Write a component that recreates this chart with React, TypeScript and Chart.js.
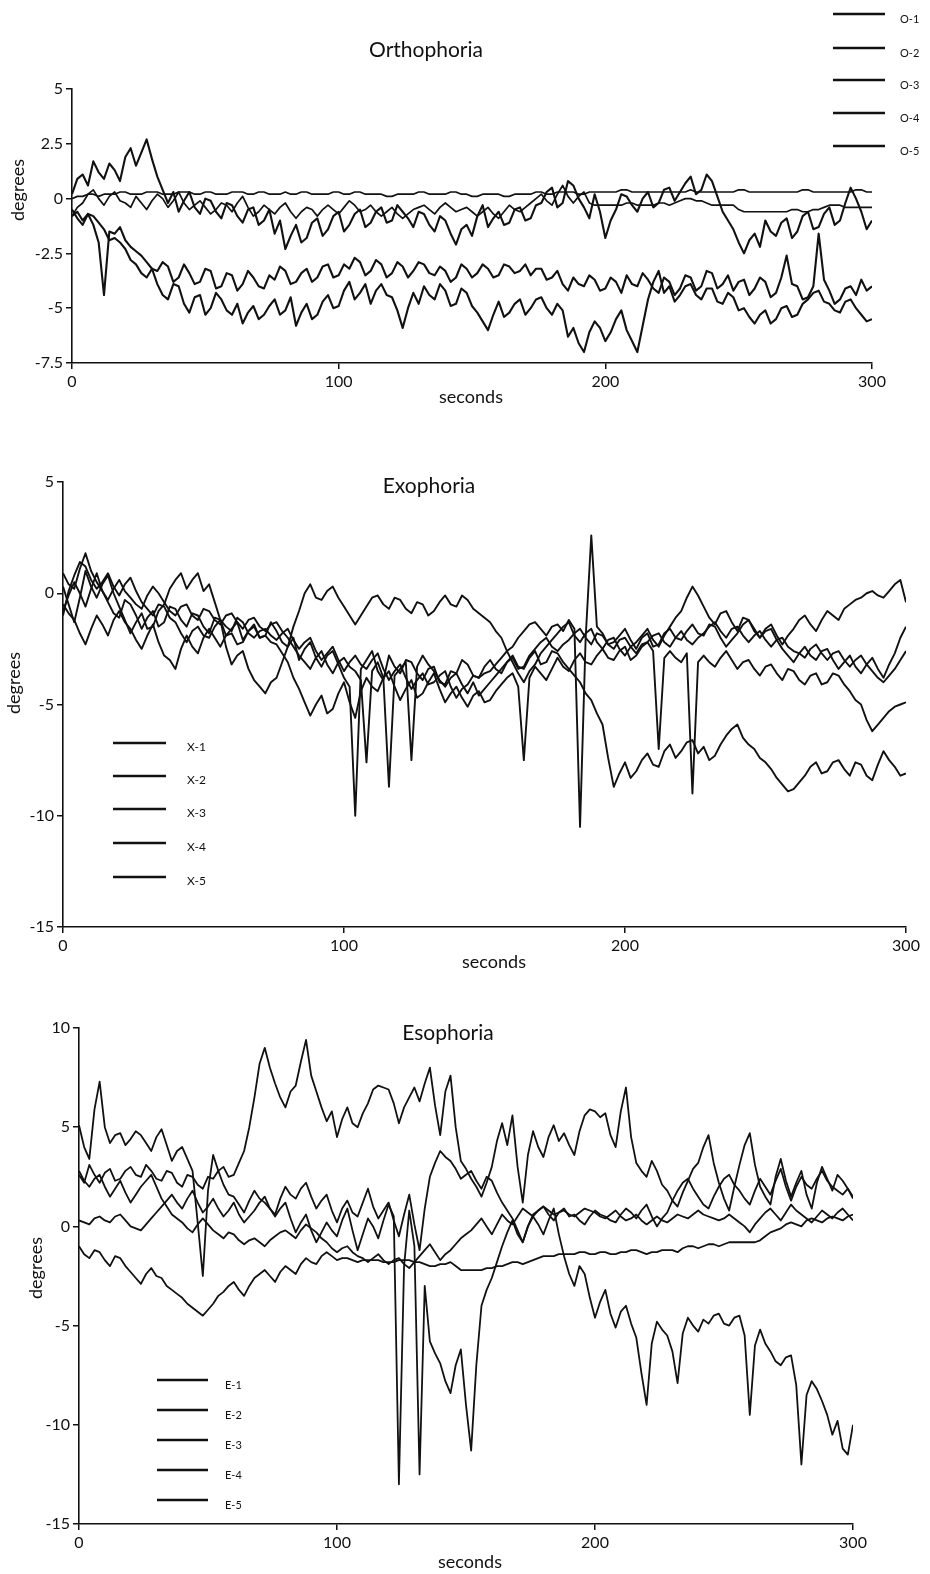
import React, { useEffect, useRef } from "react";
import { Chart, registerables } from "chart.js";

Chart.register(...registerables);

const FONT = "Lato, 'Open Sans', sans-serif";

// sample times (seconds)
const TIMES = [
  0, 2, 4, 6, 8, 10, 12, 14, 16, 18, 20, 22, 24, 26, 28, 30, 32, 34, 36, 38, 40, 42, 44, 46, 48, 50, 52, 54, 56, 58, 60, 62, 64, 66, 68, 70, 72, 74,
  76, 78, 80, 82, 84, 86, 88, 90, 92, 94, 96, 98, 100, 102, 104, 106, 108, 110, 112, 114, 116, 118, 120, 122, 124, 126, 128, 130, 132, 134, 136, 138, 140, 142, 144, 146, 148, 150,
  152, 154, 156, 158, 160, 162, 164, 166, 168, 170, 172, 174, 176, 178, 180, 182, 184, 186, 188, 190, 192, 194, 196, 198, 200, 202, 204, 206, 208, 210, 212, 214, 216, 218, 220, 222, 224, 226,
  228, 230, 232, 234, 236, 238, 240, 242, 244, 246, 248, 250, 252, 254, 256, 258, 260, 262, 264, 266, 268, 270, 272, 274, 276, 278, 280, 282, 284, 286, 288, 290, 292, 294, 296, 298, 300,
];

// ---------- Orthophoria ----------
const O_LABELS = ["O-1", "O-2", "O-3", "O-4", "O-5"];
const O1 = [
  0, 0.1, 0.1, 0.2, 0.2, 0.1, 0.2, 0.2, 0.2, 0.3, 0.3, 0.2, 0.2, 0.2, 0.3, 0.3, 0.3, 0.2, 0.2, 0.2, 0.3, 0.3, 0.3, 0.2, 0.2, 0.3, 0.3, 0.2, 0.2, 0.2, 0.3, 0.3, 0.3, 0.2, 0.2, 0.3, 0.3, 0.2,
  0.2, 0.2, 0.3, 0.2, 0.2, 0.3, 0.3, 0.2, 0.2, 0.2, 0.2, 0.3, 0.3, 0.2, 0.2, 0.3, 0.3, 0.2, 0.2, 0.2, 0.2, 0.1, 0.1, 0.2, 0.2, 0.2, 0.2, 0.3, 0.3, 0.2, 0.2, 0.2, 0.2, 0.3, 0.3, 0.2, 0.2, 0.1,
  0.1, 0.2, 0.2, 0.2, 0.2, 0.1, 0.1, 0.2, 0.2, 0.2, 0.2, 0.3, 0.3, 0.2, 0.2, 0.3, 0.3, 0.3, 0.3, 0.2, 0.2, 0.3, 0.3, 0.3, 0.3, 0.3, 0.3, 0.4, 0.4, 0.3, 0.3, 0.3, 0.3, 0.3, 0.3, 0.3, 0.3, 0.3,
  0.3, 0.3, 0.4, 0.3, 0.3, 0.3, 0.3, 0.3, 0.3, 0.3, 0.3, 0.4, 0.4, 0.3, 0.3, 0.3, 0.3, 0.3, 0.3, 0.3, 0.3, 0.3, 0.3, 0.4, 0.4, 0.3, 0.3, 0.3, 0.3, 0.3, 0.3, 0.3, 0.3, 0.4, 0.4, 0.3, 0.3,
];
const O2 = [
  -0.8, -0.4, -0.2, 0.2, 0.4, 0.0, -0.3, 0.1, 0.3, -0.1, -0.2, -0.4, 0.1, -0.2, -0.5, -0.1, 0.2, 0.0, -0.4, -0.1, 0.3, -0.2, -0.5, -0.3, -0.1, -0.4, -0.7, -0.5, -0.2, -0.3, -0.6, -0.2, 0.1, -0.4, -0.8, -0.6, -0.3, -0.5,
  -0.7, -0.4, -0.2, -0.6, -0.9, -0.6, -0.4, -0.5, -0.8, -0.5, -0.3, -0.5, -0.7, -0.4, -0.1, -0.3, -0.6, -0.5, -0.3, -0.6, -0.8, -0.6, -0.4, -0.7, -0.9, -0.7, -0.5, -0.4, -0.3, -0.5, -0.7, -0.4, -0.2, -0.4, -0.6, -0.5, -0.4, -0.6,
  -0.8, -0.6, -0.4, -0.7, -0.9, -0.6, -0.3, -0.5, -0.6, -0.4, -0.2, 0.0, 0.2, -0.1, -0.3, 0.2, 0.6, 0.1, -0.2, 0.1, 0.3, -0.2, -0.3, -0.3, -0.3, -0.3, -0.3, -0.3, -0.2, -0.2, -0.3, -0.3, -0.3, -0.3, -0.2, -0.2, -0.3, -0.2,
  -0.1, 0.0, 0.0, -0.1, -0.1, -0.2, -0.3, -0.3, -0.3, -0.3, -0.3, -0.5, -0.6, -0.6, -0.6, -0.6, -0.6, -0.6, -0.6, -0.6, -0.6, -0.5, -0.5, -0.6, -0.6, -0.5, -0.5, -0.4, -0.3, -0.3, -0.3, -0.4, -0.4, -0.4, -0.4, -0.4, -0.4,
];
const O3 = [
  0.2, 0.9, 1.1, 0.6, 1.7, 1.2, 0.9, 1.6, 1.3, 0.8, 1.9, 2.3, 1.5, 2.1, 2.7, 1.8, 1.0, 0.4, -0.2, 0.3, -0.6, -0.1, 0.3, -0.4, -0.7, 0.0, -0.1, -0.6, -0.9, -0.2, -0.3, -0.8, -1.1, -0.5, -0.4, -1.2, -1.0, -0.5,
  -1.6, -1.0, -2.3, -1.7, -1.2, -2.0, -1.8, -1.1, -0.9, -1.7, -1.4, -0.8, -0.6, -1.5, -1.2, -0.7, -0.5, -1.3, -1.1, -0.6, -0.4, -1.1, -1.0, -0.3, -0.6, -0.9, -1.3, -0.6, -0.7, -1.2, -1.5, -0.8, -1.0, -1.6, -2.1, -1.4, -1.2, -1.7,
  -0.8, -0.3, -1.3, -0.9, -0.6, -1.2, -1.1, -0.5, -0.4, -1.0, -0.9, -0.3, -0.2, 0.3, 0.5, -0.4, -0.2, 0.8, 0.6, 0.0, -0.4, -0.9, 0.2, -0.6, -1.8, -1.0, -0.5, 0.2, 0.1, -0.3, -0.6, 0.0, 0.3, -0.4, -0.2, 0.4, 0.5, -0.1,
  0.3, 0.7, 1.0, 0.2, 0.4, 1.1, 0.8, 0.1, -0.6, -1.0, -1.4, -2.0, -2.5, -1.9, -1.6, -2.2, -1.0, -1.5, -1.7, -1.1, -0.9, -1.8, -1.5, -0.8, -0.6, -1.4, -1.3, -0.7, -0.4, -1.2, -1.0, -0.2, 0.5, 0.0, -0.6, -1.4, -1.0,
];
const O4 = [
  -0.8, -0.6, -1.0, -0.7, -1.2, -2.0, -4.4, -1.5, -1.6, -1.3, -1.9, -2.2, -2.4, -2.6, -2.9, -3.2, -3.3, -2.9, -3.1, -3.8, -3.6, -3.0, -3.4, -3.9, -3.8, -3.2, -3.3, -4.1, -4.0, -3.4, -3.5, -4.2, -3.9, -3.3, -3.6, -4.0, -4.1, -3.5,
  -3.7, -3.1, -3.3, -3.9, -3.8, -3.4, -3.2, -3.8, -3.6, -3.1, -3.0, -3.6, -3.5, -3.0, -3.2, -2.7, -2.9, -3.5, -3.3, -2.8, -3.0, -3.6, -3.4, -2.9, -3.1, -3.6, -3.3, -2.9, -3.0, -3.4, -3.5, -3.1, -3.3, -3.8, -3.6, -3.0, -3.2, -3.6,
  -3.4, -3.0, -3.2, -3.6, -3.5, -3.0, -3.1, -3.4, -3.3, -3.0, -3.5, -3.2, -3.2, -3.7, -3.6, -3.3, -3.9, -4.2, -3.6, -3.9, -4.0, -3.5, -3.7, -4.2, -4.1, -3.6, -3.8, -4.3, -3.5, -3.9, -4.0, -3.4, -3.7, -4.1, -4.3, -3.6, -3.8, -4.4,
  -4.1, -3.5, -3.6, -4.2, -4.0, -3.3, -3.4, -4.1, -3.9, -3.5, -4.2, -3.8, -3.7, -4.4, -4.1, -3.6, -3.8, -4.5, -4.3, -3.6, -2.6, -3.9, -4.0, -4.6, -4.5, -4.0, -1.6, -3.7, -4.2, -4.8, -4.6, -4.1, -4.0, -4.4, -3.7, -4.2, -4.0,
];
const O5 = [
  -0.5, -0.9, -1.2, -0.7, -0.8, -1.1, -1.4, -1.9, -1.8, -2.0, -2.3, -2.8, -3.0, -3.4, -3.6, -3.2, -3.9, -4.4, -4.6, -3.9, -4.0, -4.8, -5.2, -4.5, -4.4, -5.3, -5.0, -4.3, -4.6, -5.1, -5.3, -4.8, -5.7, -5.2, -4.9, -5.5, -5.3, -4.9,
  -4.6, -5.3, -5.1, -4.5, -5.8, -5.2, -4.8, -5.5, -5.3, -4.7, -4.4, -5.0, -4.9, -4.2, -3.8, -4.6, -4.3, -3.9, -4.8, -4.2, -3.9, -4.4, -4.5, -5.1, -5.9, -5.0, -4.3, -4.8, -4.0, -4.4, -4.6, -3.9, -4.2, -4.9, -4.8, -4.1, -4.3, -4.9,
  -5.2, -5.6, -6.0, -5.3, -4.7, -5.4, -5.2, -4.8, -4.6, -5.3, -5.0, -4.6, -4.5, -5.0, -5.3, -4.8, -5.1, -6.3, -5.9, -6.6, -7.0, -6.1, -5.6, -5.9, -6.5, -6.1, -5.5, -5.1, -6.0, -6.5, -7.0, -5.8, -4.6, -3.8, -3.3, -4.3, -4.0, -4.7,
  -4.4, -4.0, -3.9, -4.4, -4.6, -4.1, -4.1, -4.7, -4.8, -4.3, -4.5, -5.1, -5.0, -5.4, -5.7, -5.3, -5.1, -5.7, -5.5, -5.0, -4.9, -5.4, -5.3, -4.8, -4.6, -4.3, -4.2, -4.7, -4.8, -5.1, -5.2, -4.7, -4.6, -5.0, -5.3, -5.6, -5.5,
];

// ---------- Exophoria ----------
const X_LABELS = ["X-1", "X-2", "X-3", "X-4", "X-5"];
const X1 = [
  -0.8, -0.1, 0.5, 0.0, -0.6, 0.2, 0.9, 0.1, -0.4, -0.9, -1.1, -0.3, -0.5, -1.0, -1.6, -1.1, -0.8, -1.5, -1.3, -0.6, -0.7, -1.2, -1.5, -0.9, -1.0, -1.5, -1.8, -1.1, -1.2, -1.9, -1.6, -1.3, -2.1, -1.7, -1.4, -2.0, -1.9, -1.3,
  -1.7, -2.2, -2.4, -2.0, -3.0, -2.5, -2.2, -2.9, -3.3, -2.8, -2.6, -3.2, -3.8, -4.2, -10.0, -3.4, -3.0, -2.6, -3.5, -3.9, -2.8, -3.3, -3.6, -3.0, -3.1, -3.6, -3.9, -3.4, -3.3, -4.0, -4.1, -3.5, -3.6, -3.0, -3.2, -3.7, -3.8, -3.3,
  -3.0, -3.4, -3.6, -3.1, -2.8, -3.3, -3.4, -2.9, -2.6, -3.2, -3.1, -2.6, -2.7, -3.1, -3.4, -3.7, -4.0, -4.5, -4.8, -5.4, -5.9, -7.4, -8.7, -8.1, -7.6, -8.3, -8.0, -7.5, -7.2, -7.7, -7.8, -7.1, -6.8, -7.4, -7.1, -6.7, -6.6, -7.2,
  -6.9, -7.5, -7.3, -6.8, -6.4, -6.1, -5.9, -6.5, -6.8, -7.0, -7.4, -7.6, -7.9, -8.3, -8.6, -8.9, -8.8, -8.5, -8.2, -7.8, -7.6, -8.1, -8.0, -7.6, -7.5, -7.9, -8.2, -7.6, -7.7, -8.2, -8.4, -7.7, -7.1, -7.5, -7.8, -8.2, -8.1,
];
const X2 = [
  0.3, -0.5, -1.3, -0.2, 1.0, 0.3, -0.2, 0.4, 0.8, 0.0, -0.6, -1.2, -1.8, -1.3, -0.9, -1.6, -1.5, -0.8, -0.5, 0.2, 0.6, 0.9, 0.2, 0.6, 0.9, 0.1, 0.4, -0.4, -1.2, -2.4, -3.2, -2.8, -2.6, -3.4, -3.9, -4.2, -4.5, -4.0,
  -3.8, -3.1, -2.4, -1.5, -0.8, 0.0, 0.4, -0.2, -0.3, 0.1, 0.3, -0.2, -0.6, -1.0, -1.4, -1.0, -0.6, -0.2, -0.1, -0.5, -0.7, -0.2, -0.3, -0.7, -0.9, -0.4, -0.5, -1.0, -0.8, -0.4, -0.1, -0.5, -0.6, -0.1, -0.3, -0.7, -0.9, -1.1,
  -1.3, -1.7, -2.0, -2.6, -3.1, -3.6, -4.0, -3.5, -3.2, -2.7, -2.4, -2.1, -1.8, -1.5, -1.3, -1.9, -2.2, -1.8, -1.6, -2.2, -2.5, -2.1, -2.0, -2.5, -2.8, -2.4, -2.2, -1.9, -1.6, -2.1, -2.4, -1.9, -1.5, -1.1, -0.8, -0.2, 0.3, -0.1,
  -0.6, -1.1, -1.4, -0.9, -0.8, -1.3, -1.7, -1.1, -1.2, -1.7, -2.0, -1.6, -1.4, -1.9, -2.3, -1.9, -1.6, -1.2, -1.0, -1.4, -1.7, -1.2, -0.8, -1.0, -1.2, -0.7, -0.5, -0.3, -0.2, 0.0, 0.1, -0.1, -0.2, 0.1, 0.4, 0.6, -0.4,
];
const X3 = [
  -0.5, -0.9, -1.2, -1.8, -2.3, -1.6, -1.0, -1.4, -1.9, -1.2, -0.8, -1.3, -1.6, -2.1, -2.5, -1.9, -1.4, -2.2, -2.8, -3.0, -3.4, -2.5, -1.9, -2.4, -2.7, -2.0, -1.6, -2.0, -2.4, -1.9, -1.8, -2.3, -2.2, -1.7, -1.5, -2.0, -1.9, -2.2,
  -2.3, -2.7, -3.1, -3.8, -4.3, -4.9, -5.5, -5.0, -4.6, -5.4, -5.2, -4.5, -4.0, -4.9, -5.6, -4.4, -3.8, -4.2, -4.4, -3.8, -3.5, -4.2, -4.8, -4.3, -3.9, -4.7, -4.5, -4.0, -3.6, -4.3, -4.9, -4.5, -4.2, -4.7, -5.1, -4.6, -4.4, -4.9,
  -4.8, -4.4, -4.1, -3.8, -3.6, -4.2, -7.5, -3.8, -3.3, -3.6, -3.9, -3.4, -2.9, -3.3, -3.5, -3.0, -2.7, -3.1, -3.2, -2.8, -2.5, -2.9, -3.0, -2.6, -2.4, -3.0, -2.8, -2.4, -2.2, -2.6, -7.0, -2.9, -2.6, -2.9, -3.1, -2.7, -9.0, -3.1,
  -2.8, -3.1, -3.3, -2.9, -2.6, -3.0, -3.4, -3.1, -3.0, -3.4, -3.7, -3.3, -3.2, -3.6, -3.9, -3.4, -3.5, -3.9, -4.1, -3.7, -3.6, -4.1, -4.0, -3.6, -3.7, -4.1, -4.4, -4.8, -5.0, -5.7, -6.2, -5.9, -5.6, -5.3, -5.1, -5.0, -4.9,
];
const X4 = [
  0.9, 0.4, 0.2, 1.1, 1.8, 1.0, 0.5, 0.1, -0.3, 0.2, 0.6, 0.1, -0.2, -0.5, -0.7, -0.1, 0.3, 0.0, -0.4, -0.8, -1.0, -0.6, -0.5, -1.0, -1.2, -0.7, -0.8, -1.2, -1.4, -1.0, -0.9, -1.3, -1.6, -1.2, -1.1, -1.5, -1.7, -1.4,
  -1.3, -1.7, -2.0, -2.4, -2.8, -3.1, -3.4, -2.9, -2.6, -3.2, -3.6, -3.1, -2.9, -3.3, -3.5, -3.9, -7.6, -3.5, -3.1, -3.8, -8.7, -3.7, -3.4, -3.1, -7.5, -3.3, -2.8, -3.2, -3.5, -3.9, -4.2, -3.8, -3.6, -4.1, -4.5, -4.0, -4.6, -4.3,
  -4.0, -3.7, -3.4, -3.1, -2.9, -3.4, -3.3, -2.8, -2.5, -2.2, -2.0, -2.4, -2.6, -2.3, -2.1, -1.8, -1.6, -2.0, -2.3, -1.8, -1.9, -2.3, -2.5, -2.1, -2.0, -2.4, -2.7, -2.3, -2.2, -1.9, -1.8, -2.2, -2.4, -2.0, -1.7, -2.1, -2.3, -2.0,
  -1.8, -1.5, -1.3, -1.7, -2.0, -1.6, -1.5, -1.9, -2.2, -1.9, -1.7, -2.1, -2.4, -2.1, -2.0, -2.4, -2.6, -2.7, -2.9, -2.5, -2.3, -2.7, -3.0, -2.7, -2.6, -3.0, -3.3, -3.0, -2.8, -3.2, -3.5, -3.8, -4.0, -3.7, -3.4, -3.0, -2.6,
];
const X5 = [
  -1.0, 0.1, 0.8, 1.4, 1.2, 0.6, 0.2, 0.5, 0.9, 0.3, -0.1, 0.4, 0.7, 0.1, -0.4, -0.7, -1.0, -0.5, -0.6, -1.1, -1.3, -1.8, -2.2, -1.7, -1.5, -1.9, -2.0, -1.5, -1.2, -1.5, -1.7, -1.1, -1.3, -1.8, -2.0, -1.7, -1.6, -1.9,
  -2.1, -1.8, -1.6, -2.1, -2.5, -2.2, -2.0, -2.6, -3.0, -2.7, -2.4, -3.0, -3.5, -3.1, -2.8, -3.2, -3.4, -3.0, -2.7, -3.4, -3.9, -3.5, -3.2, -3.8, -4.3, -3.9, -3.6, -4.1, -4.0, -3.7, -3.5, -4.2, -4.7, -4.3, -4.1, -3.7, -3.8, -3.6,
  -3.5, -3.2, -2.9, -2.6, -2.4, -2.0, -1.7, -1.4, -1.3, -1.6, -1.9, -1.5, -1.4, -1.7, -1.2, -1.6, -10.5, -2.0, 2.6, -1.5, -1.8, -2.3, -2.2, -1.9, -1.6, -2.1, -2.5, -2.0, -1.8, -2.4, -2.3, -1.8, -1.6, -2.0, -2.1, -1.7, -1.4, -1.8,
  -1.9, -1.4, -1.5, -2.0, -2.4, -2.1, -1.8, -1.4, -1.2, -1.6, -2.0, -1.7, -1.6, -2.1, -2.5, -2.8, -3.1, -2.7, -2.4, -2.8, -3.0, -2.6, -2.5, -3.0, -3.4, -3.1, -2.8, -3.3, -3.6, -3.2, -2.9, -3.4, -3.8, -3.2, -2.7, -2.0, -1.5,
];

// ---------- Esophoria ----------
const E_LABELS = ["E-1", "E-2", "E-3", "E-4", "E-5"];
const E1 = [
  2.6, 2.2, 3.1, 2.6, 2.2, 2.7, 2.9, 2.3, 2.4, 2.8, 3.0, 2.6, 2.5, 3.1, 2.8, 2.4, 2.3, 2.8, 2.7, 2.2, 2.0, 2.6, 2.5, 2.1, 1.9, 2.5, 2.4, 2.8, 3.0, 2.5, 2.6, 3.2, 3.8, 5.0, 6.5, 8.2, 9.0, 8.0,
  7.2, 6.5, 6.0, 6.8, 7.1, 8.3, 9.4, 7.6, 6.8, 6.0, 5.3, 5.8, 4.5, 5.4, 6.0, 5.2, 5.0, 5.7, 6.2, 6.9, 7.1, 7.0, 6.9, 6.2, 5.2, 6.0, 6.5, 7.0, 6.3, 7.2, 8.0, 6.1, 4.6, 6.8, 7.6, 5.0, 3.3, 2.9,
  2.4, 2.0, 1.5, 2.2, 3.0, 4.3, 5.2, 4.1, 5.6, 3.0, 1.2, 3.6, 4.8, 4.0, 3.5, 4.5, 5.1, 4.3, 4.7, 4.1, 3.6, 4.8, 5.6, 5.9, 5.8, 5.5, 5.7, 4.6, 4.0, 5.8, 7.0, 4.5, 3.2, 2.8, 2.5, 3.3, 2.8, 2.1,
  1.8, 1.3, 1.0, 1.7, 2.3, 2.9, 3.2, 4.0, 4.6, 3.2, 2.2, 1.4, 0.8, 2.0, 3.1, 4.1, 4.7, 3.1, 2.0, 1.5, 1.1, 2.5, 3.4, 2.3, 1.5, 2.2, 2.8, 1.6, 0.9, 2.2, 3.0, 2.4, 1.8, 2.6, 2.3, 1.9, 1.4,
];
const E2 = [
  5.1, 4.0, 3.4, 5.9, 7.3, 5.0, 4.2, 4.6, 4.7, 4.1, 4.4, 4.8, 4.6, 4.2, 3.8, 4.5, 4.9, 4.1, 3.3, 3.8, 4.0, 3.4, 2.8, 0.2, -2.5, 1.8, 3.6, 2.8, 2.1, 1.6, 1.5, 1.1, 0.7, 1.3, 1.8, 1.4, 1.2, 0.9,
  0.6, 1.4, 2.0, 1.6, 1.4, 1.9, 2.2, 1.5, 0.9, 1.3, 1.6, 0.8, 0.2, 0.9, 1.3, 0.7, 0.5, 1.2, 1.9, 1.0, 0.4, 0.8, 1.2, 0.3, -0.5, 0.6, 1.6, 0.1, -1.2, 0.9, 2.5, 3.2, 3.8, 3.5, 3.3, 2.9, 2.4, 2.6,
  2.8, 2.3, 1.9, 2.5, 2.3, 1.7, 1.2, 0.8, 0.4, -0.2, -0.8, 0.0, 0.6, 0.8, 1.0, 0.6, 0.3, 0.7, 0.9, 0.5, 0.6, 0.3, 0.1, 0.5, 0.8, 0.6, 0.5, 0.3, 0.2, 0.6, 0.9, 0.7, 0.4, 0.8, 1.1, 0.5, 0.0, 0.4,
  0.7, 1.3, 1.8, 2.2, 2.4, 1.9, 1.5, 1.1, 0.9, 1.5, 2.0, 2.4, 2.6, 2.1, 1.8, 1.4, 1.1, 1.8, 2.4, 2.0, 1.6, 2.3, 2.9, 2.0, 1.3, 2.0, 2.5, 2.1, 1.9, 2.4, 2.8, 2.3, 2.0, 1.8, 1.6, 1.9, 1.5,
];
const E3 = [
  0.3, 0.2, 0.1, 0.4, 0.5, 0.3, 0.2, 0.5, 0.6, 0.3, 0.0, -0.1, -0.2, 0.1, 0.4, 0.7, 1.0, 1.3, 1.6, 1.2, 0.9, 1.4, 1.8, 1.2, 0.7, 1.0, 1.4, 0.9, 0.5, 0.8, 1.2, 0.6, 0.2, 0.5, 0.8, 1.2, 1.5, 0.9,
  0.5, 0.9, 1.2, 0.4, -0.3, 0.2, 0.6, -0.2, -0.8, -0.3, 0.2, -0.2, -0.5, 0.3, 0.9, -0.2, -1.2, -0.4, 0.4, 0.0, -0.6, 0.3, 1.1, 0.5, -13.0, -2.0, 0.8, -1.0, -12.5, -3.0, -5.8, -6.4, -6.9, -7.8, -8.4, -7.0, -6.2, -9.0,
  -11.3, -7.0, -4.0, -3.2, -2.6, -1.8, -1.0, -0.3, 0.3, -0.4, -0.8, 0.0, 0.5, 0.1, -0.4, 0.3, 0.9, -0.4, -1.5, -2.4, -3.0, -2.0, -2.4, -3.6, -4.6, -3.8, -3.2, -4.4, -5.1, -4.3, -4.0, -4.9, -5.6, -7.4, -9.0, -5.9, -4.8, -5.2,
  -5.5, -6.3, -7.9, -5.4, -4.6, -5.0, -5.3, -4.7, -4.9, -4.5, -4.4, -4.9, -5.0, -4.6, -4.5, -5.5, -9.5, -6.0, -5.2, -5.9, -6.3, -6.8, -7.0, -6.6, -6.5, -8.0, -12.0, -8.5, -7.8, -8.2, -8.8, -9.5, -10.5, -9.8, -11.2, -11.5, -10.0,
];
const E4 = [
  -1.0, -1.4, -1.6, -1.2, -1.3, -1.7, -2.0, -1.5, -1.6, -2.0, -2.3, -2.6, -2.9, -2.4, -2.1, -2.5, -2.6, -3.0, -3.2, -3.4, -3.6, -3.9, -4.1, -4.3, -4.5, -4.2, -3.9, -3.5, -3.3, -3.0, -2.8, -3.2, -3.5, -3.0, -2.6, -2.4, -2.2, -2.5,
  -2.8, -2.3, -2.0, -2.2, -2.4, -1.9, -1.6, -1.8, -1.9, -1.5, -1.3, -1.5, -1.7, -1.6, -1.6, -1.7, -1.8, -1.7, -1.7, -1.7, -1.7, -1.8, -1.8, -1.8, -1.7, -1.7, -1.7, -1.8, -1.8, -1.9, -2.0, -2.0, -1.9, -1.9, -1.8, -2.0, -2.2, -2.2,
  -2.2, -2.2, -2.2, -2.1, -2.1, -2.0, -2.0, -1.9, -1.8, -1.8, -1.9, -1.8, -1.7, -1.6, -1.5, -1.5, -1.5, -1.4, -1.4, -1.4, -1.4, -1.3, -1.3, -1.4, -1.4, -1.3, -1.3, -1.4, -1.4, -1.3, -1.3, -1.2, -1.2, -1.3, -1.4, -1.3, -1.3, -1.2,
  -1.2, -1.2, -1.3, -1.1, -1.0, -1.0, -1.1, -1.0, -0.9, -0.9, -1.0, -0.9, -0.8, -0.8, -0.8, -0.8, -0.8, -0.8, -0.7, -0.5, -0.3, -0.2, -0.1, 0.1, 0.2, 0.1, 0.0, 0.3, 0.4, 0.3, 0.2, 0.4, 0.5, 0.4, 0.3, 0.5, 0.6,
];
const E5 = [
  2.8, 2.3, 2.0, 2.4, 2.6, 2.0, 1.5, 1.9, 2.3, 1.7, 1.2, 1.6, 2.0, 2.3, 2.6, 2.0, 1.4, 1.0, 0.6, 0.4, 0.2, -0.1, -0.3, 0.1, 0.4, 0.1, -0.2, -0.4, -0.6, -0.3, -0.4, -0.7, -0.9, -0.7, -0.6, -0.8, -1.0, -0.7,
  -0.5, -0.3, -0.2, -0.4, -0.6, -0.2, 0.1, -0.1, -0.3, -0.6, -0.8, -1.1, -1.3, -1.1, -1.0, -1.3, -1.5, -1.6, -1.8, -1.6, -1.4, -1.7, -1.9, -1.7, -1.6, -1.9, -2.1, -1.8, -1.5, -1.2, -0.9, -1.3, -1.7, -1.4, -1.2, -0.9, -0.6, -0.4,
  -0.2, 0.1, 0.4, 0.0, -0.4, 0.1, 0.6, 0.3, 0.1, 0.5, 0.9, 0.7, 0.5, 0.8, 1.0, 0.8, 0.6, 0.7, 0.8, 0.6, 0.5, 0.7, 0.9, 0.8, 0.7, 0.5, 0.4, 0.6, 0.8, 0.5, 0.3, 0.4, 0.6, 0.3, 0.1, 0.3, 0.5, 0.3,
  0.2, 0.4, 0.6, 0.5, 0.4, 0.6, 0.8, 0.6, 0.5, 0.4, 0.3, 0.4, 0.6, 0.4, 0.2, 0.0, -0.3, 0.1, 0.4, 0.7, 0.9, 0.6, 0.3, 0.7, 1.1, 0.8, 0.6, 0.4, 0.2, 0.5, 0.8, 0.6, 0.4, 0.7, 0.9, 0.6, 0.3,
];

const X_TICKS = [0, 100, 200, 300];

type PanelCfg = {
  top: number;
  height: number;
  yW: number;
  xH: number;
  padTop: number;
  padRight: number;
  yMin: number;
  yMax: number;
  yStep: number;
  series: number[][];
  labels: string[];
  widths: number[];
  title: string;
  titleX: number;
  titleY: number;
  xLabelX: number;
  xLabelY: number;
  yLabelX: number;
  yLabelY: number;
  legendX0: number;
  legendX1: number;
  legendTextX: number;
  legendY: number[];
  legendDy: number;
  legendFont: number;
};

const PANELS: PanelCfg[] = [
  {
    top: 0, height: 420, yW: 72, xH: 57, padTop: 89, padRight: 58,
    yMin: -7.5, yMax: 5, yStep: 2.5,
    series: [O1, O2, O3, O4, O5], labels: O_LABELS, widths: [1.7, 1.7, 2.1, 2.1, 2.1],
    title: "Orthophoria", titleX: 426, titleY: 50,
    xLabelX: 471, xLabelY: 397, yLabelX: 18, yLabelY: 190,
    legendX0: 833, legendX1: 885, legendTextX: 900,
    legendY: [14, 48, 80, 113, 146], legendDy: 5, legendFont: 11,
  },
  {
    top: 420, height: 570, yW: 63, xH: 63, padTop: 62, padRight: 24,
    yMin: -15, yMax: 5, yStep: 5,
    series: [X1, X2, X3, X4, X5], labels: X_LABELS, widths: [1.9, 1.9, 1.9, 1.9, 1.9],
    title: "Exophoria", titleX: 429, titleY: 486,
    xLabelX: 494, xLabelY: 962, yLabelX: 14, yLabelY: 683,
    legendX0: 113, legendX1: 166, legendTextX: 187,
    legendY: [743, 776, 809, 843, 877], legendDy: 4, legendFont: 12,
  },
  {
    top: 990, height: 584, yW: 79, xH: 50, padTop: 38, padRight: 77,
    yMin: -15, yMax: 10, yStep: 5,
    series: [E1, E2, E3, E4, E5], labels: E_LABELS, widths: [1.8, 1.8, 1.8, 1.8, 1.8],
    title: "Esophoria", titleX: 448, titleY: 1033,
    xLabelX: 470, xLabelY: 1562, yLabelX: 36, yLabelY: 1268,
    legendX0: 157, legendX1: 208, legendTextX: 225,
    legendY: [1380, 1410, 1440, 1470, 1500], legendDy: 5, legendFont: 11,
  },
];

const decorPlugin = {
  id: "decor",
  afterDraw(chart: any, _args: any, o: any) {
    const ctx: CanvasRenderingContext2D = chart.ctx;
    const top = o.top;
    ctx.save();
    ctx.fillStyle = "#111";
    ctx.textAlign = "center";
    ctx.textBaseline = "middle";
    ctx.font = `21px ${FONT}`;
    ctx.fillText(o.title, o.titleX, o.titleY - top);
    ctx.font = `18px ${FONT}`;
    ctx.fillText("seconds", o.xLabelX, o.xLabelY - top);
    ctx.save();
    ctx.translate(o.yLabelX, o.yLabelY - top);
    ctx.rotate(-Math.PI / 2);
    ctx.fillText("degrees", 0, 0);
    ctx.restore();
    ctx.strokeStyle = "#111";
    ctx.lineWidth = 2.5;
    ctx.textAlign = "left";
    ctx.font = `${o.legendFont}px ${FONT}`;
    chart.data.datasets.forEach((ds: any, i: number) => {
      const ly = o.legendY[i] - top;
      ctx.beginPath();
      ctx.moveTo(o.legendX0, ly);
      ctx.lineTo(o.legendX1, ly);
      ctx.stroke();
      ctx.fillText(ds.label, o.legendTextX, ly + o.legendDy);
    });
    ctx.restore();
  },
};

function Panel({ p }: { p: PanelCfg }) {
  const ref = useRef<HTMLCanvasElement>(null);
  useEffect(() => {
    const canvas = ref.current!;
    const datasets = p.series.map((vals, i) => ({
      label: p.labels[i],
      data: TIMES.map((t, k) => ({ x: t, y: vals[k] })),
      borderColor: "#111",
      backgroundColor: "#111",
      borderWidth: p.widths[i],
      pointRadius: 0,
      tension: 0,
      fill: false,
      borderJoinStyle: "round" as const,
    }));
    const chart = new Chart(canvas, {
      type: "line",
      data: { datasets },
      plugins: [decorPlugin],
      options: {
        responsive: false,
        animation: false,
        events: [],
        layout: { padding: { left: 0, top: p.padTop, right: p.padRight, bottom: 0 } },
        plugins: {
          legend: { display: false },
          tooltip: { enabled: false },
          title: { display: false },
          // @ts-ignore
          decor: { ...p },
        },
        scales: {
          x: {
            type: "linear",
            min: 0,
            max: 300,
            afterFit: (s: any) => { s.height = p.xH; },
            afterBuildTicks: (s: any) => { s.ticks = X_TICKS.map((v) => ({ value: v })); },
            ticks: { color: "#111", font: { family: FONT, size: 16 }, padding: 3, maxRotation: 0 },
            grid: { drawOnChartArea: false, drawTicks: true, tickLength: 6, color: "#111", lineWidth: 1.5 },
            border: { display: true, color: "#111", width: 1.6 },
          },
          y: {
            type: "linear",
            min: p.yMin,
            max: p.yMax,
            afterFit: (s: any) => { s.width = p.yW; },
            ticks: { stepSize: p.yStep, color: "#111", font: { family: FONT, size: 16 }, padding: 3 },
            grid: { drawOnChartArea: false, drawTicks: true, tickLength: 6, color: "#111", lineWidth: 1.5 },
            border: { display: true, color: "#111", width: 1.6 },
          },
        },
      },
    } as any);
    return () => chart.destroy();
  }, [p]);
  return (
    <canvas
      ref={ref}
      width={930}
      height={p.height}
      style={{ position: "absolute", left: 0, top: p.top, width: 930, height: p.height, display: "block" }}
    />
  );
}

export default function App() {
  return (
    <div style={{ position: "absolute", left: 0, top: 0, width: 930, height: 1574, background: "#fff", overflow: "hidden" }}>
      {PANELS.map((p, i) => (
        <Panel key={i} p={p} />
      ))}
    </div>
  );
}
